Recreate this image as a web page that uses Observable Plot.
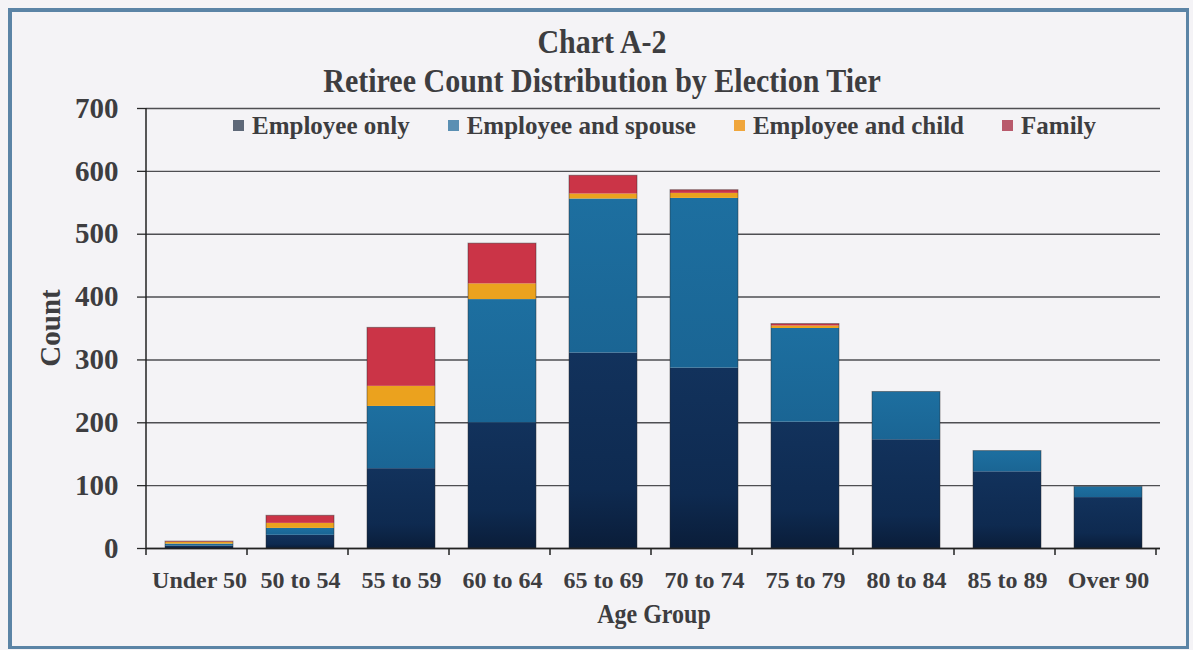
<!DOCTYPE html>
<html>
<head>
<meta charset="utf-8">
<script src="https://cdn.jsdelivr.net/npm/d3@7"></script>
<script src="https://cdn.jsdelivr.net/npm/@observablehq/plot@0.6"></script>
<style>
  html, body { margin: 0; padding: 0; background: #f4f3f6; }
  #wrap { position: relative; width: 1193px; height: 650px; background: #f4f3f6; overflow: hidden;
          font-family: "Liberation Serif", "Times New Roman", serif; font-weight: bold; color: #3d3d40; }
  #wrap svg { position: absolute; left: 0; top: 0; }
  #wrap svg text { font-weight: bold; }
  .abs { position: absolute; white-space: nowrap; line-height: 1; }
  #border { position: absolute; left: 8px; top: 8px; width: 1181px; height: 641px; box-sizing: border-box;
            border: 3px solid #5b84a6; border-left-width: 4px; border-top-width: 4px; pointer-events: none; }
  .title { left: 0; width: 1204px; text-align: center; font-size: 30px;
           transform-origin: 50% 25px; transform: scaleY(1.15); }
  #legend { top: 113px; left: 233px; display: flex; align-items: center; font-size: 25px; }
  .item { display: flex; align-items: center; margin-right: 38px; }
  .sw { width: 11px; height: 11px; margin-right: 8px; }
  #ylab { font-size: 29px; left: 50px; top: 328px; transform: translate(-50%, -50%) rotate(-90deg); }
  #xlab { font-size: 24px; left: 654px; top: 602px; transform: translateX(-50%) scaleY(1.1); }
</style>
</head>
<body>
<div id="wrap">
  <div id="chart"></div>
  <div class="abs title" style="top:28px">Chart A-2</div>
  <div class="abs title" style="top:67px">Retiree Count Distribution by Election Tier</div>
  <div class="abs" id="legend"></div>
  <div class="abs" id="ylab">Count</div>
  <div class="abs" id="xlab">Age Group</div>
  <div id="border"></div>
</div>
<script>
// ---- data ----
const ages = ["Under 50", "50 to 54", "55 to 59", "60 to 64", "65 to 69", "70 to 74", "75 to 79", "80 to 84", "85 to 89", "Over 90"];
const tiers = ["Employee only", "Employee and spouse", "Employee and child", "Family"];
const employeeOnly     = [4, 21, 127, 200, 311, 287, 201, 173, 122, 81];
const employeeSpouse   = [3, 11,  99, 196, 245, 270, 149,  76,  33, 17];
const employeeChild    = [3,  8,  32,  25,   8,   8,   4,   0,   0,  0];
const family           = [1, 12,  93,  64,  29,   5,   3,   0,   0,  0];
const yTicks = [0, 100, 200, 300, 400, 500, 600, 700];

const seriesList = [employeeOnly, employeeSpouse, employeeChild, family];
const barFills = ["url(#gEmp)", "url(#gSp)", "#eba21e", "#cb3447"];
const legendColors = ["#5e6878", "#5a8fb3", "#f0a63c", "#b95a6c"];

const rows = ages.flatMap((a, i) => tiers.map((t, j) => ({ age: a, tier: t, count: seriesList[j][i] })));
const totals = ages.map((a, i) => ({ age: a, total: seriesList.reduce((s, arr) => s + arr[i], 0) }));

const plot = Plot.plot({
  width: 1193,
  height: 650,
  marginTop: 108,
  marginBottom: 102,
  marginLeft: 146,
  marginRight: 33,
  style: { background: "transparent", fontFamily: "'Liberation Serif', 'Times New Roman', serif", color: "#3d3d40", overflow: "visible" },
  x: { domain: ages, paddingInner: 0.33, paddingOuter: 0.165, axis: null, label: null },
  y: { domain: [0, 700], axis: null, label: null },
  color: { domain: tiers, range: barFills },
  marks: [
    Plot.gridY(yTicks, { stroke: "#4e4e52", strokeOpacity: 1, strokeWidth: 1.4 }),
    Plot.barY(rows, { x: "age", y: "count", fill: "tier", order: tiers }),
    Plot.barY(totals, { x: "age", y: "total", fill: "none", stroke: "#2a2a2a", strokeOpacity: 0.45, strokeWidth: 1 }),
    Plot.axisY(yTicks, { tickSize: 9, tickPadding: 19, fontSize: 29, stroke: "#2a2a2a", strokeWidth: 1.3, fill: "#3d3d40" }),
    Plot.axisX(ages, { tickSize: 0, tickPadding: 22, fontSize: 24, fill: "#3d3d40" }),
    Plot.ruleY([0], { stroke: "#222", strokeWidth: 1.5 })
  ]
});

document.getElementById("chart").appendChild(plot);

// gradients for the dark bars
const svg = d3.select(plot);
const defs = svg.insert("defs", ":first-child");
const g1 = defs.append("linearGradient").attr("id", "gEmp").attr("x1", 0).attr("y1", 0).attr("x2", 0).attr("y2", 1);
g1.append("stop").attr("offset", 0).attr("stop-color", "#12325c");
g1.append("stop").attr("offset", 0.7).attr("stop-color", "#0e2a50");
g1.append("stop").attr("offset", 1).attr("stop-color", "#0a1d39");
const g2 = defs.append("linearGradient").attr("id", "gSp").attr("x1", 0).attr("y1", 0).attr("x2", 0).attr("y2", 1);
g2.append("stop").attr("offset", 0).attr("stop-color", "#1d6fa0");
g2.append("stop").attr("offset", 1).attr("stop-color", "#1a6594");

// axis lines and category boundary ticks, derived from the scales
const sx = plot.scale("x");
const sy = plot.scale("y");
const x0 = sx.range[0];
svg.append("line")
  .attr("x1", x0).attr("x2", x0)
  .attr("y1", sy.apply(700)).attr("y2", sy.apply(0))
  .attr("stroke", "#222").attr("stroke-width", 1.5);
const y0 = sy.apply(0);
svg.append("g").selectAll("line")
  .data(d3.range(ages.length + 1))
  .join("line")
  .attr("x1", i => x0 + i * sx.step).attr("x2", i => x0 + i * sx.step)
  .attr("y1", y0).attr("y2", y0 + 7)
  .attr("stroke", "#222").attr("stroke-width", 1.5);

// legend
const legend = d3.select("#legend");
tiers.forEach((t, i) => {
  const it = legend.append("div").attr("class", "item");
  it.append("div").attr("class", "sw").style("background", legendColors[i]);
  it.append("span").text(t);
});
</script>
</body>
</html>
